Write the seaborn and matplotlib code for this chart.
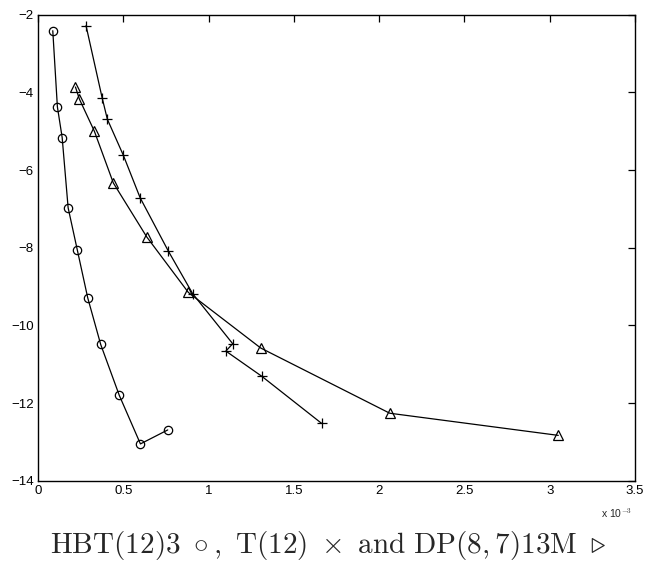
import numpy as np
import pandas as pd
import matplotlib
matplotlib.use("Agg")
import matplotlib.pyplot as plt
from matplotlib.ticker import FuncFormatter
import seaborn as sns

# Data (x in units of 1e-3)
hbt_x = [0.086, 0.113, 0.141, 0.176, 0.230, 0.291, 0.367, 0.476, 0.600, 0.760]
hbt_y = [-2.41, -4.37, -5.16, -6.97, -8.06, -9.29, -10.49, -11.80, -13.05, -12.69]

t_x = [0.281, 0.375, 0.406, 0.500, 0.598, 0.763, 0.906, 1.141, 1.101, 1.312, 1.662]
t_y = [-2.28, -4.13, -4.69, -5.62, -6.71, -8.08, -9.18, -10.47, -10.66, -11.31, -12.52]

dp_x = [0.219, 0.242, 0.330, 0.441, 0.637, 0.881, 1.305, 2.062, 3.050]
dp_y = [-3.86, -4.17, -5.00, -6.33, -7.72, -9.15, -10.58, -12.26, -12.83]

x_ticks = [0, 0.5, 1, 1.5, 2, 2.5, 3, 3.5]
y_ticks = [-14, -12, -10, -8, -6, -4, -2]
caption = r"$\mathrm{HBT(12)3}\ \circ,\ \mathrm{T(12)}\ \times\ \mathrm{and}\ \mathrm{DP}(8,7)\mathrm{13M}\ \triangleright$"

sns.set_style("white")
plt.rcParams['font.family'] = ['Liberation Sans', 'DejaVu Sans']
plt.rcParams['mathtext.fontset'] = 'cm'

fig = plt.figure(figsize=(6.46, 5.69), dpi=100)
ax = fig.add_axes([0.059, 0.155, 0.924, 0.819])

series = [
    (hbt_x, hbt_y, 'o', 6.0),
    (t_x, t_y, '+', 7.5),
    (dp_x, dp_y, '^', 6.5),
]
for xs, ys, mk, ms in series:
    df = pd.DataFrame({"x": np.array(xs) * 1e-3, "y": ys})
    sns.lineplot(data=df, x="x", y="y", sort=False, estimator=None, ax=ax,
                 color="black", linewidth=0.9, marker=mk, markersize=ms,
                 markerfacecolor="none", markeredgecolor="black",
                 markeredgewidth=0.9)

ax.set_xlim(0, 3.5e-3)
ax.set_ylim(-14, -2)
ax.set_xticks(np.array(x_ticks) * 1e-3)
ax.set_yticks(y_ticks)
ax.xaxis.set_major_formatter(FuncFormatter(lambda v, p: f"{v*1e3:g}"))
ax.yaxis.set_major_formatter(FuncFormatter(lambda v, p: f"{v:g}".replace("-", "\u2212")))
ax.set_xlabel("")
ax.set_ylabel("")
ax.tick_params(direction="in", length=5, width=0.9, top=True, right=True,
               labelsize=9.5, colors="black", pad=3)
for s in ax.spines.values():
    s.set_color("black")
    s.set_linewidth(1.0)

fig.text(0.955, 0.098, r"x 10$^{-3}$", fontsize=7.5, ha="center", va="center")
fig.text(0.508, 0.042, caption, fontsize=21, ha="center", va="center")

fig.savefig("out.png", dpi=100)
